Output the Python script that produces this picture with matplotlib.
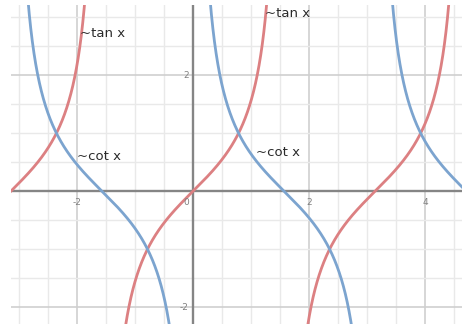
import numpy as np
import matplotlib.pyplot as plt
from matplotlib.ticker import MultipleLocator

# viewing window of the graph
XMIN, XMAX = -3.14, 4.64
YMIN, YMAX = -2.29, 3.21

# numbered ticks on each axis
x_tick_vals = [-2, 2, 4]
y_tick_vals = [-2, 2]

# hand-written curve labels: (text, x, y)
labels = [
    ("~tan x", -1.95, 2.72),
    ("~tan x", 1.24, 3.07),
    ("~cot x", -2.0, 0.6),
    ("~cot x", 1.08, 0.66),
]

TAN_COLOR = '#dc8082'
COT_COLOR = '#7ca4cf'

fig = plt.figure(figsize=(4.62, 3.24), dpi=100)
ax = fig.add_axes([11/462, 0, 1 - 11/462, 1 - 5/324])

# sample x finely and break the curves at the asymptotes
x = np.linspace(XMIN, XMAX, 4000)
tan_y = np.tan(x)
cot_y = 1 / np.tan(x)
tan_y[np.abs(tan_y) > 8] = np.nan
cot_y[np.abs(cot_y) > 8] = np.nan

ax.plot(x, tan_y, color=TAN_COLOR, lw=2.0, zorder=3)
ax.plot(x, cot_y, color=COT_COLOR, lw=2.0, zorder=3)

ax.set_xlim(XMIN, XMAX)
ax.set_ylim(YMIN, YMAX)

# grid: fine lines every 0.5, slightly stronger every 2
ax.xaxis.set_major_locator(MultipleLocator(2))
ax.yaxis.set_major_locator(MultipleLocator(2))
ax.xaxis.set_minor_locator(MultipleLocator(0.5))
ax.yaxis.set_minor_locator(MultipleLocator(0.5))
ax.grid(which='minor', color='#e9e9e9', lw=1.0, zorder=0)
ax.grid(which='major', color='#cfcfcf', lw=1.2, zorder=0)
ax.tick_params(which='both', length=0, labelbottom=False, labelleft=False)
for s in ax.spines.values():
    s.set_visible(False)

# main axes lines
ax.axhline(0, color='#858585', lw=1.7, zorder=2)
ax.axvline(0, color='#858585', lw=1.7, zorder=2)

# tick numbers
for v in x_tick_vals:
    ax.annotate(str(v), (v, 0), xytext=(0, -5), textcoords='offset points',
                ha='center', va='top', fontsize=6.5, color='#808080')
for v in y_tick_vals:
    ax.annotate(str(v), (0, v), xytext=(-3, 0), textcoords='offset points',
                ha='right', va='center', fontsize=6.5, color='#808080')
ax.annotate("0", (0, 0), xytext=(-3, -5), textcoords='offset points',
            ha='right', va='top', fontsize=6.5, color='#808080')

for txt, lx, ly in labels:
    ax.text(lx, ly, txt, ha='left', va='center', fontsize=9.5,
            color='#2a2a2a', zorder=4)

fig.savefig('out.png', dpi=100)
